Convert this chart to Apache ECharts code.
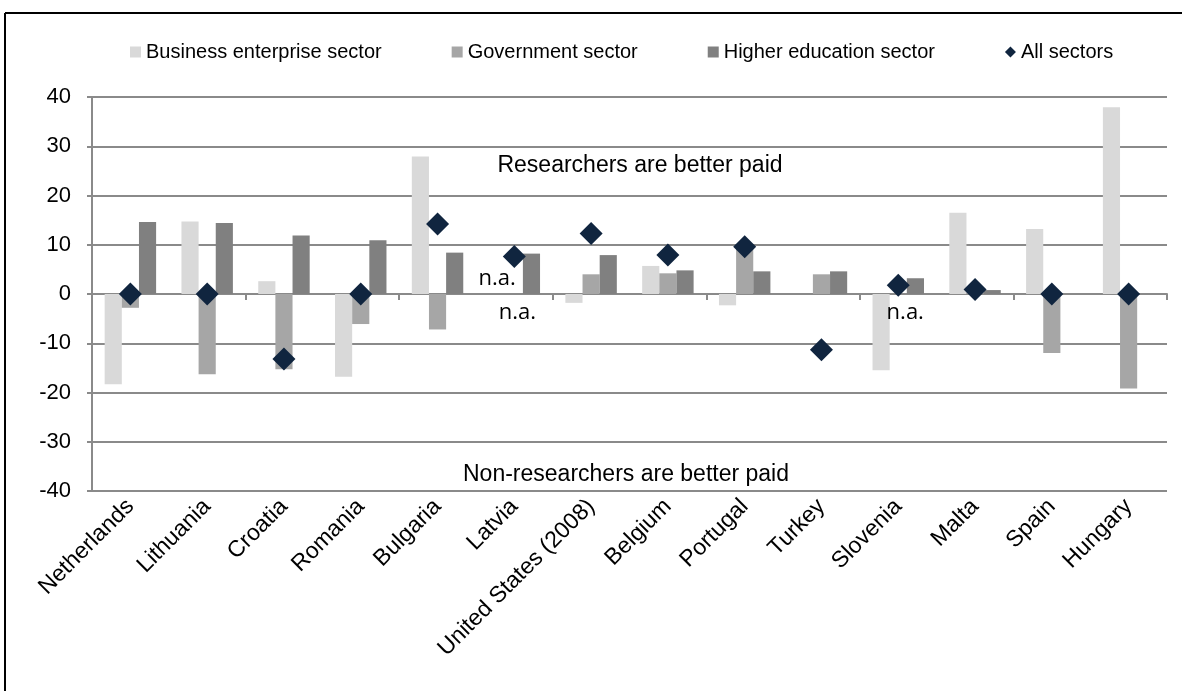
<!DOCTYPE html>
<html>
<head>
<meta charset="utf-8">
<script src="https://cdn.jsdelivr.net/npm/echarts@6/dist/echarts.min.js"></script>
<style>
html,body{margin:0;padding:0;background:#fff;}
#chart{width:1182px;height:691px;}
</style>
</head>
<body>
<div id="chart"></div>
<script>
// ---- data ----
const categories = ['Netherlands','Lithuania','Croatia','Romania','Bulgaria','Latvia','United States (2008)','Belgium','Portugal','Turkey','Slovenia','Malta','Spain','Hungary'];
const business   = [-18.3, 14.7,   2.6, -16.8, 27.9, null, -1.8, 5.7, -2.3, null, -15.5, 16.5, 13.2, 37.9];
const government = [ -2.8, -16.3, -15.3, -6.1, -7.2, null,  4.0, 4.2,  9.3,  4.0,  null,  0.5, -12.0, -19.2];
const higherEd   = [ 14.6, 14.4,  11.9, 10.9,  8.4,  8.2,  7.9, 4.8,  4.6,  4.6,   3.2,  0.8, null, null];
const allSectors = [  0.0,  0.0, -13.2,  0.0, 14.2,  7.6, 12.3, 7.9,  9.6, -11.3,  1.8,  0.9,  0.0,  0.0];
const yTicks = {min: -40, max: 40, interval: 10};
// cells reported as "n.a." : category indices
const naBusiness = [5];
const naGovernment = [5, 10];

const FONT = '"Liberation Sans", Arial, sans-serif';

function build(values, naList, pos, dist, offsets) {
  return values.map((v, i) => {
    if (v === null && naList.indexOf(i) >= 0) {
      return {
        value: 0,
        label: {
          show: true, position: pos, distance: dist,
          formatter: 'n.a.', fontFamily: '"Open Sans", "Noto Sans", sans-serif',
          fontSize: 22, color: '#000', offset: offsets[i] || [0, 0]
        }
      };
    }
    return v;
  });
}

const chart = echarts.init(document.getElementById('chart'), null, {renderer: 'canvas'});
const option = {
  animation: false,
  backgroundColor: '#fff',
  textStyle: {fontFamily: FONT},
  grid: {left: 92, right: 15, top: 97, bottom: 200, containLabel: false},
  legend: {
    top: 37, left: 125,
    itemWidth: 11, itemHeight: 11, itemGap: 70,
    textStyle: {fontFamily: FONT, fontSize: 20, color: '#000'},
    data: [
      {name: 'Business enterprise sector', icon: 'rect'},
      {name: 'Government sector', icon: 'rect'},
      {name: 'Higher education sector', icon: 'rect'},
      {name: 'All sectors', icon: 'diamond'}
    ]
  },
  xAxis: [
    {
      type: 'category', data: categories, position: 'bottom',
      axisLine: {show: false, onZero: false}, axisTick: {show: false},
      axisLabel: {rotate: 45, fontSize: 23, color: '#000', fontFamily: FONT, margin: 12, interval: 0},
      splitLine: {show: false}
    },
    {
      type: 'category', data: categories, position: 'top',
      axisLine: {show: true, onZero: true, lineStyle: {color: '#8a8a8a', width: 2}},
      axisTick: {show: true, inside: true, length: 6, lineStyle: {color: '#8a8a8a', width: 2}},
      axisLabel: {show: false}, splitLine: {show: false}
    }
  ],
  yAxis: {
    type: 'value', min: yTicks.min, max: yTicks.max, interval: yTicks.interval,
    axisLine: {show: true, lineStyle: {color: '#8a8a8a', width: 2}},
    axisTick: {show: true, length: 5, lineStyle: {color: '#8a8a8a', width: 2}},
    axisLabel: {fontSize: 22, color: '#000', fontFamily: FONT, margin: 21},
    splitLine: {show: true, lineStyle: {color: '#8a8a8a', width: 2}}
  },
  series: [
    {
      name: 'Business enterprise sector', type: 'bar', xAxisIndex: 0,
      barGap: '0%', barCategoryGap: '33%',
      itemStyle: {color: '#d9d9d9'},
      data: build(business, naBusiness, 'top', 4, {})
    },
    {
      name: 'Government sector', type: 'bar', xAxisIndex: 0,
      barGap: '0%', barCategoryGap: '33%',
      itemStyle: {color: '#a6a6a6'},
      data: build(government, naGovernment, 'bottom', 8, {5: [3, 0], 10: [7, 0]})
    },
    {
      name: 'Higher education sector', type: 'bar', xAxisIndex: 0,
      barGap: '0%', barCategoryGap: '33%',
      itemStyle: {color: '#808080'},
      data: higherEd
    },
    {
      name: 'All sectors', type: 'scatter', xAxisIndex: 0,
      symbol: 'diamond', symbolSize: 23,
      itemStyle: {color: '#10253f', opacity: 1},
      data: allSectors, z: 5
    }
  ],
  graphic: [
    {type: 'line', shape: {x1: 5, y1: 13, x2: 1182, y2: 13}, style: {stroke: '#000', lineWidth: 2}},
    {type: 'line', shape: {x1: 5, y1: 13, x2: 5, y2: 691}, style: {stroke: '#000', lineWidth: 2}},
    {type: 'text', style: {x: 640, y: 166, text: 'Researchers are better paid', textAlign: 'center', textVerticalAlign: 'middle', fontSize: 23, fontFamily: FONT, fill: '#000'}, z: 10},
    {type: 'text', style: {x: 626, y: 475, text: 'Non-researchers are better paid', textAlign: 'center', textVerticalAlign: 'middle', fontSize: 23, fontFamily: FONT, fill: '#000'}, z: 10}
  ]
};
chart.setOption(option);
</script>
</body>
</html>
